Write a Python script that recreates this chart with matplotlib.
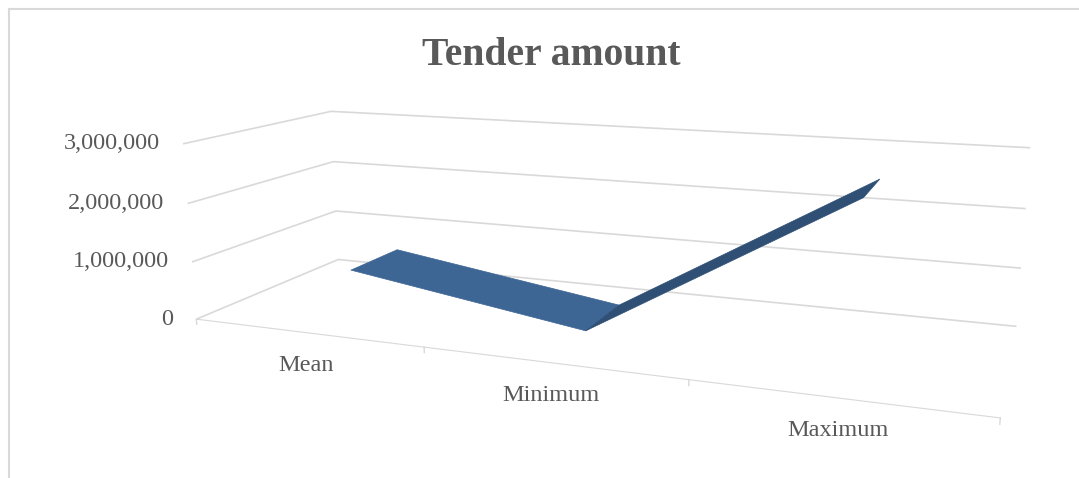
import matplotlib.pyplot as plt
from matplotlib.transforms import offset_copy
from mpl_toolkits.mplot3d import proj3d
from mpl_toolkits.mplot3d.art3d import Poly3DCollection

categories = ["Mean", "Minimum", "Maximum"]
amounts = [720000, 100000, 2600000]
z_ticks = [0, 1000000, 2000000, 3000000]

plt.rcParams['font.family'] = ['Liberation Serif', 'DejaVu Serif']
label_col = '#595959'
line_col = '#d9d9d9'

fig = plt.figure(figsize=(10.79, 4.78), dpi=100)

# thin light border round the chart area
fig.add_artist(plt.Line2D([0.008, 0.008], [0, 0.981], color=line_col, lw=1.5))
fig.add_artist(plt.Line2D([0.008, 1.0], [0.981, 0.981], color=line_col, lw=1.5))

fig.text(0.511, 0.883, "Tender amount", ha='center', va='center',
         fontsize=28.5, fontweight='bold', color=label_col)

ax = fig.add_axes([-0.012, -0.383, 1.12, 1.733], projection='3d')
ax.set_proj_type('persp', focal_length=0.28)
ax.view_init(elev=13, azim=-69.5)
ax.set_box_aspect((5.0, 1.7, 1.15))

ax.set_xlim(0, len(categories))
ax.set_ylim(0, 1)
ax.set_zlim(0, 3000000)

# ribbon for the line, one quad per segment
xs = [i + 0.5 for i in range(len(categories))]
y0, y1 = 0.32, 0.68
face_cols = ['#3e6695', '#2f4f75']
for i in range(len(xs) - 1):
    quad = [(xs[i], y0, amounts[i]), (xs[i + 1], y0, amounts[i + 1]),
            (xs[i + 1], y1, amounts[i + 1]), (xs[i], y1, amounts[i])]
    pc = Poly3DCollection([quad], facecolor=face_cols[i], edgecolor=face_cols[i], lw=0.5)
    ax.add_collection3d(pc)

# category tick marks below the front edge
for b in range(len(categories) + 1):
    ax.plot([b, b], [0, 0], [0, -90000], color=line_col, lw=1)

ax.set_xticks([])
ax.set_yticks([])
ax.set_zticks(z_ticks)
ax.zaxis.set_tick_params(labelleft=False)

for axis in (ax.xaxis, ax.yaxis, ax.zaxis):
    axis.set_pane_color((1, 1, 1, 0))
    axis.pane.set_edgecolor((1, 1, 1, 0))
    axis.label.set_visible(False)
    axis.offsetText.set_visible(False)
    axis._axinfo['tick']['inward_factor'] = 0
    axis._axinfo['tick']['outward_factor'] = 0
ax.xaxis.line.set_color(line_col)
ax.yaxis.line.set_color((1, 1, 1, 0))
ax.zaxis.line.set_color((1, 1, 1, 0))

ax.xaxis._axinfo['grid']['color'] = (1, 1, 1, 0)
ax.yaxis._axinfo['grid']['color'] = (1, 1, 1, 0)
ax.zaxis._axinfo['grid']['color'] = line_col
ax.zaxis._axinfo['grid']['linewidth'] = 1.2

# labels are placed in screen space at projected points of the front edges
fig.canvas.draw()


def projected(x, y, z):
    xp, yp, _ = proj3d.proj_transform(x, y, z, ax.M)
    return xp, yp


left_shift = offset_copy(ax.transData, fig=fig, x=-23, y=0, units='dots')
for z in z_ticks:
    px, py = projected(0, 0, z)
    ax.text2D(px, py, f"{z:,}", transform=left_shift, ha='right', va='center',
              fontsize=17.5, color=label_col)

down_shift = offset_copy(ax.transData, fig=fig, x=0, y=-33, units='dots')
for xc, name in zip(xs, categories):
    px, py = projected(xc, 0, 0)
    ax.text2D(px, py, name, transform=down_shift, ha='center', va='center',
              fontsize=17.5, color=label_col)

fig.savefig("out.png", dpi=100)
